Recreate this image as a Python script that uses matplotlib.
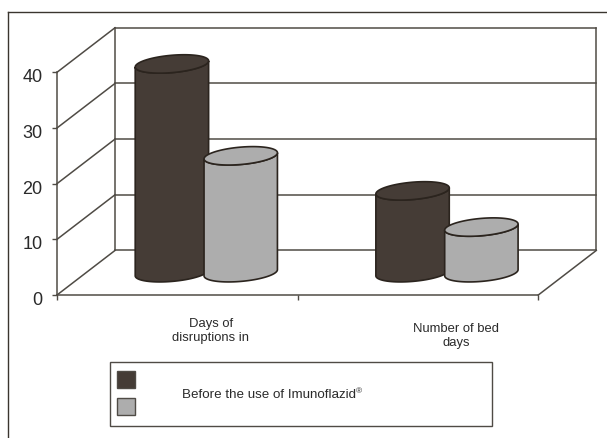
import numpy as np
import matplotlib.pyplot as plt
from matplotlib.patches import Rectangle
from matplotlib.transforms import ScaledTranslation

plt.rcParams["font.family"] = ["Liberation Sans", "DejaVu Sans"]

# --------------------------------------------------
# Data
# --------------------------------------------------

categories = ["Days of\ndisruptions in", "Number of bed\ndays"]
before_use = [37.5, 14.7]
after_use = [21.0, 8.2]
y_ticks = [0, 10, 20, 30, 40]
legend_label = "Before the use of Imunoflazid"

# --------------------------------------------------
# Style
# --------------------------------------------------

W, H = 607, 439
DARK = "#453c36"
LIGHT = "#adadad"
EDGE = "#2b241e"
LINE = "#4f4b45"
TEXT = "#2a2a2a"

# depth of the fake 3D box, in data units
depth_x = 0.241
depth_y = 8.0

bar_half = 0.1525
bar_gap = 0.143
rim_b = 1.56
rim_s = 0.55


def fx(px):
    return px / W


def fy(py):
    return 1 - py / H


def draw_cylinder(ax, x, value, color):
    cx = x + depth_x / 2
    base = depth_y / 2
    top = value + depth_y / 2

    t = np.linspace(0, 2 * np.pi, 181)
    ex = cx + bar_half * np.cos(t)
    ey = rim_b * np.sin(t) + rim_s * np.cos(t)

    # body: the near half of the base rim, closed over the top rim
    t_low = np.linspace(np.pi, 2 * np.pi, 91)
    low_x = cx + bar_half * np.cos(t_low)
    rim_low = rim_b * np.sin(t_low) + rim_s * np.cos(t_low)
    body_x = np.concatenate([low_x, low_x[::-1]])
    body_y = np.concatenate([base + rim_low, top + rim_low[::-1]])

    ax.fill(body_x, body_y, facecolor=color, edgecolor=EDGE, linewidth=1.2, clip_on=False, zorder=3)
    ax.fill(ex, top + ey, facecolor=color, edgecolor=EDGE, linewidth=1.2, clip_on=False, zorder=3)


# --------------------------------------------------
# Figure and axes
# --------------------------------------------------

fig = plt.figure(figsize=(W / 100, H / 100), dpi=100, facecolor="white")
ax = fig.add_axes([fx(57), fy(296), (538.3 - 57) / W, (296 - 73.3) / H])

x_max = len(categories)
ax.set_xlim(0, x_max)
ax.set_ylim(0, 40)

for name in ["top", "right"]:
    ax.spines[name].set_visible(False)
for name in ["left", "bottom"]:
    ax.spines[name].set_color(LINE)
    ax.spines[name].set_linewidth(1.1)

ax.set_xticks(range(x_max + 1))
ax.set_xticklabels([])
ax.set_yticks(y_ticks)
ax.tick_params(axis="both", length=3.6, width=1.0, color=LINE)
ax.tick_params(axis="y", labelsize=13, labelcolor=TEXT, pad=7)
ax.patch.set_visible(False)

# tick labels sit a little below their ticks
shift_down = ScaledTranslation(0, -2.5 / fig.dpi, fig.dpi_scale_trans)
for tick_label in ax.get_yticklabels():
    tick_label.set_transform(tick_label.get_transform() + shift_down)

# --------------------------------------------------
# Walls and gridlines of the box
# --------------------------------------------------

line_style = dict(color=LINE, linewidth=1.1, clip_on=False, zorder=1)

for v in y_ticks:
    ax.plot([0, depth_x], [v, v + depth_y], **line_style)
    ax.plot([depth_x, x_max + depth_x], [v + depth_y, v + depth_y], **line_style)

ax.plot([depth_x, depth_x], [depth_y, 40 + depth_y], **line_style)
ax.plot([x_max + depth_x, x_max + depth_x], [depth_y, 40 + depth_y], **line_style)
ax.plot([x_max, x_max + depth_x], [0, depth_y], **line_style)

# --------------------------------------------------
# Cylinders
# --------------------------------------------------

for i in range(len(categories)):
    center = i + 0.5
    draw_cylinder(ax, center - bar_gap, before_use[i], DARK)
    draw_cylinder(ax, center + bar_gap, after_use[i], LIGHT)

# --------------------------------------------------
# Category labels
# --------------------------------------------------

label_px = [(211, 331), (456, 336)]
for name, (px, py) in zip(categories, label_px):
    fig.text(fx(px), fy(py), name, ha="center", va="center", fontsize=9.4,
             color=TEXT, linespacing=1.3)

# --------------------------------------------------
# Outer frame and legend box
# --------------------------------------------------

fig.add_artist(plt.Line2D([fx(7.5), fx(7.5)], [0, fy(12.5)], color="#3a352f", linewidth=1.0))
fig.add_artist(plt.Line2D([fx(7.5), 1], [fy(12.5), fy(12.5)], color="#3a352f", linewidth=1.0))

fig.add_artist(Rectangle((fx(110), fy(426.7)), (491.7 - 110) / W, (426.7 - 363.3) / H,
                         transform=fig.transFigure, facecolor="white", edgecolor=LINE, linewidth=1.0))
fig.add_artist(Rectangle((fx(116.5), fy(389)), 18 / W, 17.5 / H, transform=fig.transFigure,
                         facecolor=DARK, edgecolor=LINE, linewidth=1.0))
fig.add_artist(Rectangle((fx(116.5), fy(416)), 18 / W, 17.5 / H, transform=fig.transFigure,
                         facecolor=LIGHT, edgecolor=LINE, linewidth=1.0))
label = fig.text(fx(182), fy(395), legend_label, ha="left", va="center", fontsize=9.6,
                 color=TEXT, zorder=5)

# small registered mark set right after the legend text
box = label.get_window_extent(fig.canvas.get_renderer())
fig.text(box.x1 / W, box.y1 / H + 1 / H, "\u00ae", ha="left", va="top", fontsize=6,
         color=TEXT, zorder=5)

plt.savefig("out.png", dpi=100)
plt.close(fig)
